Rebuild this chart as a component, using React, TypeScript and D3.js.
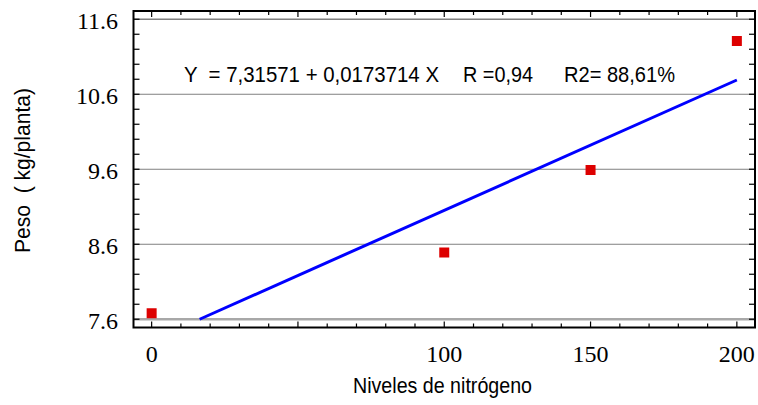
import * as d3 from 'd3';

// data
const nitrogen = [0, 100, 150, 200];
const weight = [7.68, 8.49, 9.59, 11.31];

// fitted line endpoints (Y = 7,31571 + 0,0173714 X), clipped at 7.6
const fitX = [16.4, 200];
const fitY = [7.6, 10.79];

const xTickLabels = [0, 100, 150, 200];
const xMajorTicks = [0, 50, 100, 150, 200];
const yTickLabels = [7.6, 8.6, 9.6, 10.6, 11.6];

const W = 758;
const H = 405;
const left = 133.5;
const right = 755;
const top = 11;
const bottom = 327.5;

const serif = 'Liberation Serif';
const sans = 'Liberation Sans';

export default function App() {
  const x = d3.scaleLinear().domain([-6.2, 206.2]).range([left, right]);
  const y = d3.scaleLinear().domain([7.49, 11.71]).range([bottom, top]);

  const xMinor = d3.range(0, 201, 10).filter((v) => !xMajorTicks.includes(v));
  const yMinor = d3
    .range(0, 21)
    .map((i) => +(7.6 + i * 0.2).toFixed(1))
    .filter((v) => !yTickLabels.includes(v));

  const line = d3
    .line<number>()
    .x((d, i) => x(fitX[i]))
    .y((d, i) => y(fitY[i]));

  const sq = 10;
  const serifStyle = { fontFamily: serif, fontSize: '24px' };
  const sansStyle = { fontFamily: sans, fontSize: '22px', whiteSpace: 'pre' as const };

  return (
    <svg
      width={W}
      height={H}
      style={{ position: 'absolute', left: 0, top: 0, background: '#fff' }}
    >
      {/* horizontal grid */}
      {yTickLabels.map((v) => (
        <line
          key={'g' + v}
          x1={left}
          x2={right}
          y1={y(v)}
          y2={y(v)}
          stroke={v === 7.6 ? '#a8a8a8' : '#808080'}
          strokeWidth={v === 7.6 ? 2.5 : v === 11.6 ? 1.5 : 1}
        />
      ))}

      {/* regression line */}
      <path d={line(fitX) || ''} fill="none" stroke="#0000ff" strokeWidth={3} />

      {/* observed points */}
      {nitrogen.map((n, i) => (
        <rect
          key={'p' + n}
          x={x(n) - sq / 2}
          y={y(weight[i]) - sq / 2}
          width={sq}
          height={sq}
          fill="#dd0000"
        />
      ))}

      {/* frame */}
      <rect
        x={left}
        y={top}
        width={right - left}
        height={bottom - top}
        fill="none"
        stroke="#000"
        strokeWidth={2}
      />

      {/* x ticks, bottom and top */}
      {xMajorTicks.map((v) => (
        <g key={'xm' + v} stroke="#000" strokeWidth={1.2}>
          <line x1={x(v)} x2={x(v)} y1={bottom} y2={bottom - 6} />
          <line x1={x(v)} x2={x(v)} y1={top} y2={top + 6} />
        </g>
      ))}
      {xMinor.map((v) => (
        <g key={'xn' + v} stroke="#000" strokeWidth={1.2}>
          <line x1={x(v)} x2={x(v)} y1={bottom} y2={bottom - 4} />
          <line x1={x(v)} x2={x(v)} y1={top} y2={top + 4} />
        </g>
      ))}

      {/* y ticks, left and right */}
      {[...yTickLabels, ...yMinor].map((v) => (
        <g key={'yt' + v} stroke="#000" strokeWidth={1.2}>
          <line x1={left} x2={left + 6} y1={y(v)} y2={y(v)} />
          <line x1={right} x2={right - 6} y1={y(v)} y2={y(v)} />
        </g>
      ))}

      {/* tick labels */}
      {xTickLabels.map((v) => (
        <text key={'xl' + v} x={x(v)} y={362} textAnchor="middle" style={serifStyle} fill="#000">
          {v}
        </text>
      ))}
      {yTickLabels.map((v) => (
        <text
          key={'yl' + v}
          x={118}
          y={y(v) + 9.5}
          textAnchor="end"
          style={serifStyle}
          fill="#000"
        >
          {v.toFixed(1)}
        </text>
      ))}

      {/* equation */}
      <g fill="#000">
        <text x={184} y={81.5} style={sansStyle} textLength={255} lengthAdjust="spacingAndGlyphs">
          {'Y  = 7,31571 + 0,0173714 X'}
        </text>
        <text x={463} y={81.5} style={sansStyle} textLength={70} lengthAdjust="spacingAndGlyphs">
          {'R =0,94'}
        </text>
        <text x={564} y={81.5} style={sansStyle} textLength={111} lengthAdjust="spacingAndGlyphs">
          {'R2= 88,61%'}
        </text>
      </g>

      {/* axis titles */}
      <text
        x={353}
        y={393}
        style={sansStyle}
        textLength={179}
        lengthAdjust="spacingAndGlyphs"
        fill="#000"
      >
        Niveles de nitrógeno
      </text>
      <text
        transform="translate(29.5,253) rotate(-90)"
        style={sansStyle}
        textLength={165}
        lengthAdjust="spacingAndGlyphs"
        fill="#000"
      >
        {'Peso  ( kg/planta)'}
      </text>
    </svg>
  );
}
